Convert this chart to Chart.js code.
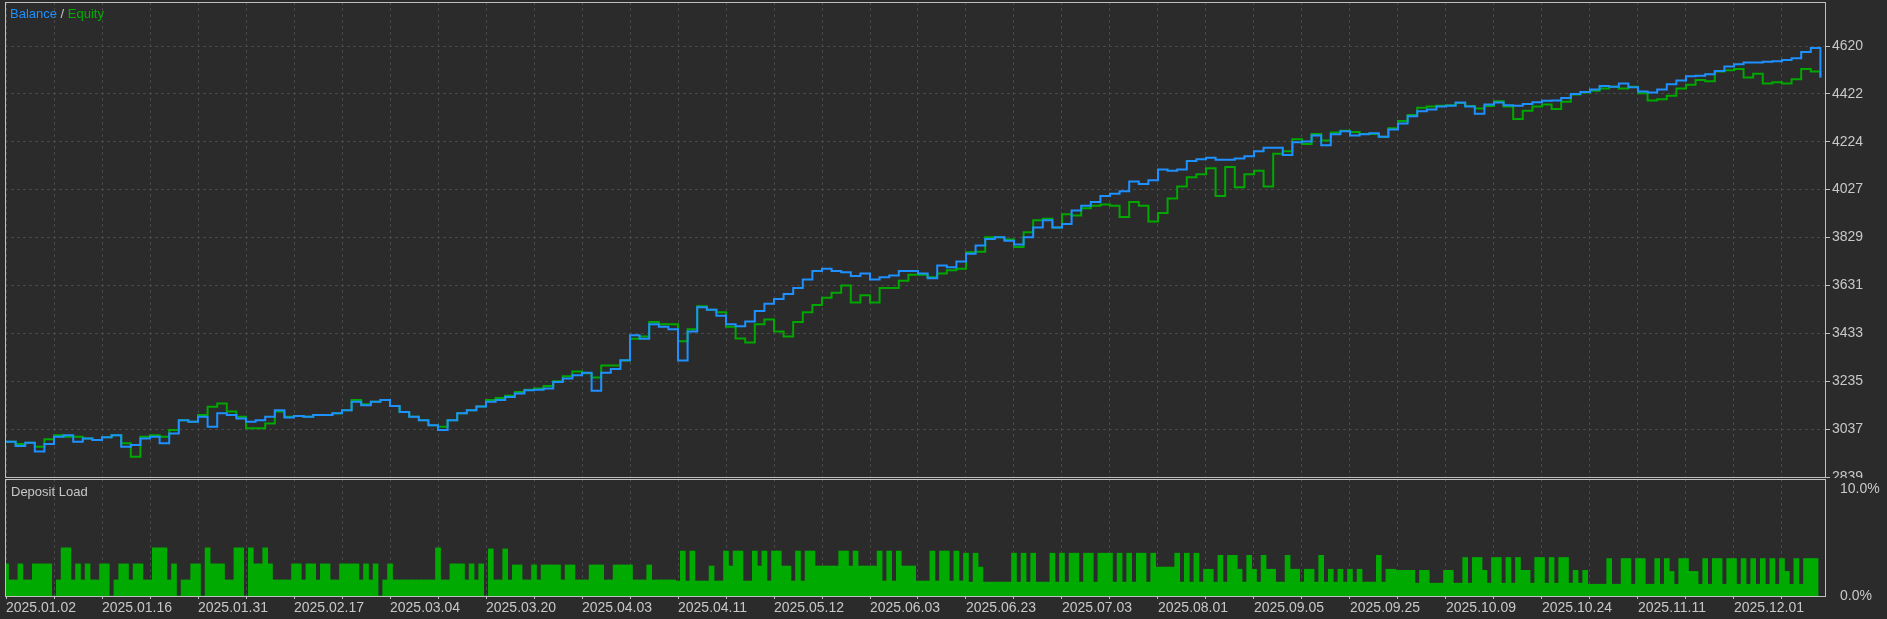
<!DOCTYPE html>
<html>
<head>
<meta charset="utf-8">
<script src="https://cdn.jsdelivr.net/npm/chart.js@4.4.1/dist/chart.umd.min.js"></script>
<style>
  html, body { margin: 0; padding: 0; background: #2b2b2b; }
  body { width: 1887px; height: 619px; position: relative; overflow: hidden; font-family: "Liberation Sans", Arial, sans-serif; }
  canvas { position: absolute; left: 0; }
  #topChart { top: 0; }
  #loadChart { top: 478px; }
  .lbl { position: absolute; font-size: 13px; line-height: 16px; color: #c8c8c8; white-space: nowrap; }
</style>
</head>
<body>
<canvas id="topChart" width="1887" height="478" style="width:1887px;height:478px"></canvas>
<canvas id="loadChart" width="1887" height="141" style="width:1887px;height:141px"></canvas>
<div class="lbl" style="left:10px;top:6px"><span style="color:#1e90ff">Balance</span> / <span style="color:#00b000">Equity</span></div>
<div class="lbl" style="left:11px;top:484px">Deposit Load</div>

<script>
// x is a sample index: one balance/equity reading every 2 steps, one load bar every step
const dateLabels = ['2025.01.02', '2025.01.16', '2025.01.31', '2025.02.17', '2025.03.04', '2025.03.20',
  '2025.04.03', '2025.04.11', '2025.05.12', '2025.06.03', '2025.06.23', '2025.07.03', '2025.08.01',
  '2025.09.05', '2025.09.25', '2025.10.09', '2025.10.24', '2025.11.11', '2025.12.01'];
const equityTicks = [2839, 3037, 3235, 3433, 3631, 3829, 4027, 4224, 4422, 4620];
const loadTicks = [0, 10];

const balance = [
  2985, 2967, 2981, 2944, 2975, 3005, 3012, 2985, 2998, 2992, 3003, 3012, 2964, 2971, 2998, 3005,
  2978, 3019, 3074, 3067, 3088, 3047, 3102, 3095, 3081, 3067, 3074, 3088, 3115, 3085, 3091, 3088,
  3095, 3095, 3102, 3115, 3150, 3136, 3150, 3157, 3132, 3108, 3088, 3074, 3053, 3033, 3074, 3102,
  3115, 3130, 3150, 3157, 3170, 3184, 3198, 3200, 3205, 3232, 3246, 3260, 3270, 3195, 3270, 3285,
  3322, 3425, 3410, 3470, 3460, 3450, 3320, 3440, 3540, 3530, 3505, 3470, 3462, 3482, 3525, 3555,
  3575, 3595, 3620, 3655, 3690, 3700, 3690, 3685, 3670, 3680, 3655, 3665, 3672, 3690,
  3690, 3680, 3660, 3713, 3706, 3730, 3762, 3796, 3823, 3830, 3815, 3800, 3830, 3870, 3900, 3870,
  3885, 3940, 3960, 3975, 4000, 4010, 4020, 4060, 4050, 4065, 4110, 4105, 4110, 4145, 4152, 4158,
  4150, 4150, 4155, 4165, 4185, 4200, 4200, 4170, 4222, 4225, 4250, 4210, 4255, 4268,
  4250, 4255, 4260, 4245, 4275, 4300, 4330, 4350, 4358, 4370, 4373, 4387, 4370, 4340, 4378, 4387,
  4375, 4373, 4380, 4388, 4394, 4395, 4405, 4422, 4430, 4440, 4455, 4452, 4465, 4450, 4432, 4428,
  4440, 4462, 4478, 4495, 4497, 4503, 4517, 4535, 4545, 4552, 4552, 4555, 4557, 4562, 4570, 4595,
  4612, 4490
];

const equity = [
  2985, 2975, 2981, 2964, 2995, 3012, 3005, 3005, 2998, 2992, 3003, 3012, 2978, 2923, 3005, 3012,
  3005, 3033, 3074, 3067, 3095, 3129, 3143, 3110, 3088, 3040, 3040, 3060, 3110, 3088, 3091, 3088,
  3095, 3095, 3102, 3115, 3157, 3140, 3150, 3157, 3132, 3108, 3088, 3074, 3053, 3047, 3074, 3102,
  3115, 3130, 3157, 3165, 3175, 3190, 3200, 3205, 3215, 3235, 3255, 3275, 3268, 3250, 3300, 3300,
  3320, 3410, 3420, 3480, 3470, 3470, 3400, 3450, 3545, 3530, 3520, 3460, 3411, 3395, 3470, 3490,
  3440, 3420, 3480, 3520, 3550, 3580, 3600, 3630, 3560, 3590, 3560, 3620, 3620, 3650,
  3675, 3675, 3665, 3680, 3693, 3700, 3768, 3770, 3830, 3830, 3820, 3790, 3850, 3900, 3906, 3870,
  3925, 3920, 3950, 3960, 3965, 3960, 3913, 3975, 3960, 3895, 3930, 3990, 4040, 4078, 4090, 4115,
  4000, 4120, 4036, 4090, 4105, 4040, 4175, 4185, 4235, 4215, 4257, 4230, 4263, 4270,
  4265, 4257, 4257, 4245, 4280, 4310, 4335, 4365, 4370, 4373, 4375, 4385, 4372, 4362, 4372, 4392,
  4370, 4318, 4353, 4370, 4378, 4360, 4390, 4420, 4428, 4435, 4445, 4452, 4445, 4452, 4425, 4395,
  4400, 4415, 4445, 4460, 4480, 4475, 4515, 4520, 4525, 4490, 4505, 4465, 4470, 4465, 4483, 4525,
  4515, 4490
];

// deposit load, % per step
const depositLoad = [
  3.0, 1.5, 1.5, 3.0, 1.5, 1.5, 3.0, 3.0, 3.0, 3.0,
  0, 1.5, 4.5, 4.5, 1.5, 3.0, 1.5, 3.0, 1.5, 1.5,
  3.0, 3.0, 0, 1.5, 3.0, 3.0, 1.5, 3.0, 3.0, 1.5,
  1.5, 4.5, 4.5, 4.5, 1.5, 3.0, 0, 1.5, 1.5, 3.0,
  3.0, 0, 4.5, 3.0, 3.0, 3.0, 1.5, 1.5, 4.5, 4.5,
  0, 4.5, 3.0, 3.0, 4.5, 3.0, 1.5, 1.5, 1.5, 1.5,
  3.0, 3.0, 1.5, 3.0, 3.0, 1.5, 3.0, 3.0, 1.5, 1.5,
  3.0, 3.0, 3.0, 3.0, 1.5, 3.0, 1.5, 3.0, 0, 1.5,
  3.0, 1.5, 1.5, 1.5, 1.5, 1.5, 1.5, 1.5, 1.5, 1.5,
  4.5, 1.5, 1.5, 3.0, 3.0, 3.0, 1.5, 3.0, 1.5, 3.0,
  0, 4.4, 1.5, 1.5, 4.4, 1.5, 2.9, 2.9, 1.5, 1.5,
  2.9, 1.5, 2.9, 2.9, 2.9, 2.9, 1.5, 2.9, 2.9, 1.5,
  1.5, 1.5, 2.9, 2.9, 2.9, 1.5, 1.5, 2.9, 2.9, 2.9,
  2.9, 1.5, 1.5, 1.5, 2.9, 1.5, 1.5, 1.5, 1.5, 1.5,
  1.4, 4.2, 1.4, 4.2, 1.4, 1.4, 1.4, 2.8, 1.4, 1.4,
  4.2, 2.8, 4.2, 4.2, 1.4, 1.4, 4.2, 2.8, 4.2, 1.4,
  4.2, 4.2, 2.8, 2.8, 1.4, 4.2, 1.4, 4.2, 4.2, 2.8,
  2.8, 2.8, 2.8, 2.8, 4.2, 4.2, 2.8, 4.2, 2.8, 2.8,
  2.8, 2.8, 4.2, 1.4, 4.2, 1.4, 4.2, 2.8, 2.8, 2.8,
  1.4, 1.4, 1.4, 4.2, 1.4, 4.2, 4.2, 1.4, 4.2, 1.4,
  4.0, 1.3, 4.0, 2.7, 1.3, 1.3, 1.3, 1.3, 1.3, 1.3,
  4.0, 1.3, 4.0, 1.3, 4.0, 1.3, 1.3, 1.3, 4.0, 1.3,
  4.0, 1.3, 4.0, 4.0, 1.3, 4.0, 4.0, 1.3, 4.0, 4.0,
  4.0, 1.3, 4.0, 1.3, 4.0, 1.3, 4.0, 4.0, 1.3, 4.0,
  2.7, 2.7, 2.7, 2.7, 4.0, 1.3, 4.0, 1.3, 4.0, 1.3,
  2.5, 2.5, 1.3, 3.8, 1.3, 3.8, 3.8, 2.5, 1.3, 3.8,
  2.5, 1.3, 3.8, 2.5, 2.5, 1.3, 1.3, 3.8, 2.5, 2.5,
  1.3, 2.5, 2.5, 1.3, 3.8, 1.3, 2.5, 1.3, 2.5, 1.3,
  2.5, 1.3, 2.5, 1.3, 1.3, 1.3, 3.8, 1.3, 2.5, 2.5,
  2.4, 2.4, 2.4, 2.4, 1.2, 2.4, 2.4, 1.2, 1.2, 1.2,
  2.4, 2.4, 1.2, 1.2, 3.6, 1.2, 3.6, 3.6, 2.4, 1.2,
  3.6, 3.6, 1.2, 3.6, 1.2, 3.6, 2.4, 2.4, 1.2, 3.6,
  3.6, 1.2, 3.6, 1.2, 3.6, 3.6, 1.2, 2.4, 1.2, 2.4,
  1.1, 1.1, 1.1, 1.1, 3.5, 1.1, 1.1, 3.5, 3.5, 1.1,
  3.5, 3.5, 1.1, 1.1, 3.5, 1.1, 3.5, 2.3, 1.1, 3.5,
  3.5, 2.3, 2.3, 1.1, 3.5, 1.1, 3.5, 3.5, 1.1, 3.5,
  3.5, 1.1, 3.5, 1.1, 3.5, 1.1, 3.5, 1.1, 3.5, 1.1,
  3.5, 2.3, 1.1, 3.5, 1.1, 3.5, 3.5, 3.5
];

const SAMPLE_STEP = 2;
const X_MIN = -0.21, X_MAX = 378.96;
const gridTicks = Array.from({ length: 38 }, (_, i) => i * 10);

const textColor = '#c8c8c8';
const gridColor = '#484848';
const frameColor = '#c0c0c0';
const tickFont = { family: 'Liberation Sans', size: 14 };

const framePlugin = {
  id: 'frame',
  afterDraw(chart) {
    const { ctx, chartArea: a } = chart;
    ctx.save();
    ctx.strokeStyle = frameColor;
    ctx.lineWidth = 1;
    ctx.strokeRect(a.left + 0.5, a.top + 0.5, a.right - a.left, a.bottom - a.top);
    ctx.restore();
  }
};

function noPad(s) {
  s.paddingTop = 0; s.paddingBottom = 0; s.paddingLeft = 0; s.paddingRight = 0;
}

function xAxis(withLabels) {
  return {
    type: 'linear',
    min: X_MIN,
    max: X_MAX,
    offset: false,
    afterBuildTicks: s => { s.ticks = gridTicks.map(v => ({ value: v })); },
    afterFit: s => { s.height = withLabels ? 23 : 1; noPad(s); },
    grid: {
      offset: false,
      color: gridColor,
      drawTicks: withLabels,
      tickLength: 3,
      tickColor: frameColor,
      tickBorderDash: []
    },
    border: { display: false, dash: [3, 3] },
    ticks: {
      display: withLabels,
      autoSkip: false,
      maxRotation: 0,
      align: 'start',
      padding: 1,
      color: textColor,
      font: tickFont,
      callback: v => (v % 20 === 0 ? dateLabels[v / 20] : '')
    }
  };
}

const toPoints = arr => arr.map((v, i) => ({ x: i * SAMPLE_STEP, y: v }));

new Chart(document.getElementById('topChart'), {
  type: 'line',
  data: {
    datasets: [
      { label: 'Balance', data: toPoints(balance), borderColor: '#1e90ff', borderWidth: 2,
        pointRadius: 0, stepped: true, fill: false },
      { label: 'Equity', data: toPoints(equity), borderColor: '#00a800', borderWidth: 2,
        pointRadius: 0, stepped: true, fill: false }
    ]
  },
  options: {
    responsive: false,
    animation: false,
    layout: { padding: { left: 5, top: 2, right: 0, bottom: 0 } },
    plugins: { legend: { display: false }, tooltip: { enabled: false } },
    scales: {
      x: xAxis(false),
      y: {
        position: 'right',
        min: 2839,
        max: 4802,
        afterBuildTicks: s => { s.ticks = equityTicks.map(v => ({ value: v })); },
        afterFit: s => { s.width = 62; noPad(s); },
        grid: { color: gridColor, tickColor: frameColor, tickLength: 5, tickBorderDash: [] },
        border: { display: false, dash: [3, 3] },
        ticks: { color: textColor, font: tickFont, padding: 2, callback: v => String(v) }
      }
    }
  },
  plugins: [framePlugin]
});

new Chart(document.getElementById('loadChart'), {
  type: 'bar',
  data: {
    datasets: [{
      label: 'Deposit Load',
      data: depositLoad.map((v, i) => ({ x: i, y: v })),
      backgroundColor: '#00aa00',
      borderWidth: 0,
      barThickness: 5
    }]
  },
  options: {
    responsive: false,
    animation: false,
    layout: { padding: { left: 5, top: 1, right: 0, bottom: 0 } },
    plugins: { legend: { display: false }, tooltip: { enabled: false } },
    scales: {
      x: xAxis(true),
      y: {
        position: 'right',
        min: 0,
        max: 10.93,
        afterBuildTicks: s => { s.ticks = loadTicks.map(v => ({ value: v })); },
        afterFit: s => { s.width = 62; noPad(s); },
        grid: { display: false },
        border: { display: false },
        ticks: { color: textColor, font: tickFont, padding: 7, callback: v => v.toFixed(1) + '%' }
      }
    }
  },
  plugins: [framePlugin]
});
</script>
</body>
</html>
